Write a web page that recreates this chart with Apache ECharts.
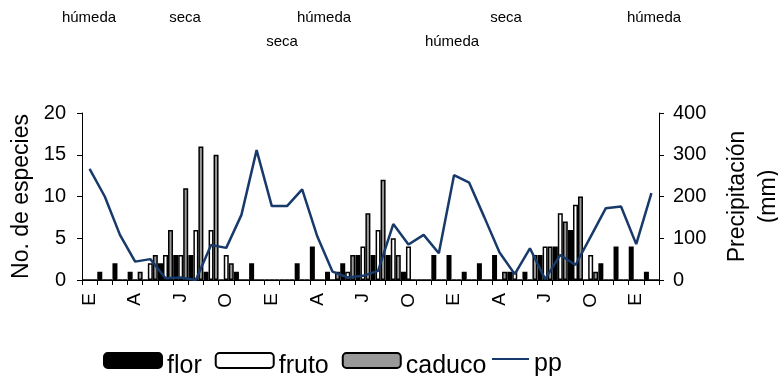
<!DOCTYPE html>
<html>
<head>
<meta charset="utf-8">
<script src="https://cdn.jsdelivr.net/npm/echarts@6/dist/echarts.min.js"></script>
<style>
  html, body { margin: 0; padding: 0; background: #ffffff; }
  #chart { width: 778px; height: 383px; }
</style>
</head>
<body>
<div id="chart"></div>
<script>
// Month initials (enero ... diciembre); 38 consecutive months are plotted
const monthInitials = ['E', 'F', 'M', 'A', 'M', 'J', 'J', 'A', 'S', 'O', 'N', 'D'];
const monthCount = 38;

// Number of species per month in each phenological phase
const flor   = [0, 1, 2, 1, 0, 2, 3, 3, 1, 0, 1, 2,
                0, 0, 2, 4, 1, 2, 3, 3, 3, 1, 0, 3,
                3, 1, 2, 3, 1, 1, 3, 4, 6, 0, 2, 4,
                4, 1];
const fruto  = [0, 0, 0, 0, 2, 3, 3, 6, 6, 3, 0, 0,
                0, 0, 0, 0, 0, 1, 4, 6, 5, 4, 0, 0,
                0, 0, 0, 0, 1, 0, 4, 8, 9, 3, 0, 0,
                0, 0];
const caduco = [0, 0, 0, 1, 3, 6, 11, 16, 15, 2, 0, 0,
                0, 0, 0, 0, 1, 3, 8, 12, 3, 0, 0, 0,
                0, 0, 0, 1, 0, 3, 4, 7, 10, 1, 0, 0,
                0, 0];

// Monthly precipitation (mm)
const pp = [266, 200, 108, 44, 50, 4, 6, 0, 84, 77, 156, 311,
            177, 177, 217, 104, 20, 6, 10, 22, 134, 85, 108, 64,
            251, 233, 150, 66, 14, 76, 2, 60, 36, 104, 172, 176,
            86, 208];

// Axis ticks
const speciesMax = 20, speciesStep = 5;
const rainMax = 400, rainStep = 100;

// Season captions along the top
const seasonTexts = ['húmeda', 'seca', 'húmeda', 'seca', 'húmeda', 'seca', 'húmeda'];

const categories = [];
for (let i = 0; i < monthCount; i++) categories.push(monthInitials[i % 12]);

const FONT = "'Liberation Sans', Arial, sans-serif";
const seasonSpots = [[89, 18], [185, 18], [324, 18], [506, 18], [654, 18], [282, 42], [452, 42]];

const chart = echarts.init(document.getElementById('chart'), null, { renderer: 'canvas' });

const barBorder = { borderColor: '#000000', borderWidth: 1.5 };
// legend captions sit slightly below the centre of their swatches
const legendText = {
  fontFamily: FONT, fontSize: 25, color: '#000000',
  rich: { t: { fontFamily: FONT, fontSize: 25, color: '#000000', padding: [11, 0, 0, 0] } }
};
const legendFormatter = name => '{t|' + name + '}';

chart.setOption({
  animation: false,
  backgroundColor: '#ffffff',
  textStyle: { fontFamily: FONT, color: '#000000' },
  grid: {
    left: 82, right: 119, top: 113, bottom: 103,
    containLabel: false,
    outerBoundsMode: 'none'
  },
  legend: [
    {
      left: 103,
      top: 352,
      padding: 0,
      itemWidth: 58,
      itemHeight: 15,
      itemGap: 13,
      textStyle: legendText,
      formatter: legendFormatter,
      data: ['flor', 'fruto', 'caduco']
    },
    {
      left: 491,
      top: 352,
      padding: 0,
      itemWidth: 37,
      itemHeight: 15,
      textStyle: legendText,
      formatter: legendFormatter,
      data: [{ name: 'pp', itemStyle: { opacity: 0 } }]
    }
  ],
  graphic: seasonTexts.map((t, i) => ({
    type: 'text',
    x: seasonSpots[i][0],
    y: seasonSpots[i][1],
    style: {
      text: t,
      font: '15px ' + FONT,
      fill: '#000000',
      align: 'center',
      verticalAlign: 'middle'
    }
  })),
  xAxis: {
    type: 'category',
    data: categories,
    boundaryGap: true,
    axisLine: { show: true, lineStyle: { color: '#000000', width: 1 } },
    axisTick: { show: true, interval: 0, length: 5, lineStyle: { color: '#000000' } },
    axisLabel: {
      interval: 2,
      rotate: 90,
      margin: 13,
      fontSize: 19,
      fontFamily: FONT,
      color: '#000000'
    },
    splitLine: { show: false }
  },
  yAxis: [
    {
      type: 'value',
      min: 0,
      max: speciesMax,
      interval: speciesStep,
      name: 'No. de especies',
      nameLocation: 'middle',
      nameRotate: 90,
      nameGap: 46,
      nameTextStyle: { fontSize: 23, fontFamily: FONT, color: '#000000' },
      axisLine: { show: true, lineStyle: { color: '#000000', width: 1 } },
      axisTick: { show: true, length: 5, lineStyle: { color: '#000000' } },
      axisLabel: { fontSize: 20, fontFamily: FONT, color: '#000000', margin: 16 },
      splitLine: { show: false }
    },
    {
      type: 'value',
      min: 0,
      max: rainMax,
      interval: rainStep,
      position: 'right',
      name: 'Precipitación\n(mm)',
      nameLocation: 'middle',
      nameRotate: 90,
      nameGap: 63,
      nameTextStyle: { fontSize: 23, lineHeight: 31, fontFamily: FONT, color: '#000000' },
      axisLine: { show: true, lineStyle: { color: '#000000', width: 1 } },
      axisTick: { show: true, length: 5, lineStyle: { color: '#000000' } },
      axisLabel: { fontSize: 20, fontFamily: FONT, color: '#000000', margin: 14 },
      splitLine: { show: false }
    }
  ],
  series: [
    {
      name: 'flor',
      type: 'bar',
      data: flor,
      barWidth: 5,
      barGap: '0%',
      itemStyle: Object.assign({ color: '#000000' }, barBorder)
    },
    {
      name: 'fruto',
      type: 'bar',
      data: fruto,
      barWidth: 5,
      barGap: '0%',
      itemStyle: Object.assign({ color: '#ffffff' }, barBorder)
    },
    {
      name: 'caduco',
      type: 'bar',
      data: caduco,
      barWidth: 5,
      barGap: '0%',
      itemStyle: Object.assign({ color: '#999999' }, barBorder)
    },
    {
      name: 'pp',
      type: 'line',
      yAxisIndex: 1,
      data: pp,
      symbol: 'none',
      lineStyle: { color: '#173a6b', width: 2.5 },
      itemStyle: { color: '#173a6b' },
      z: 5
    }
  ]
});
</script>
</body>
</html>
